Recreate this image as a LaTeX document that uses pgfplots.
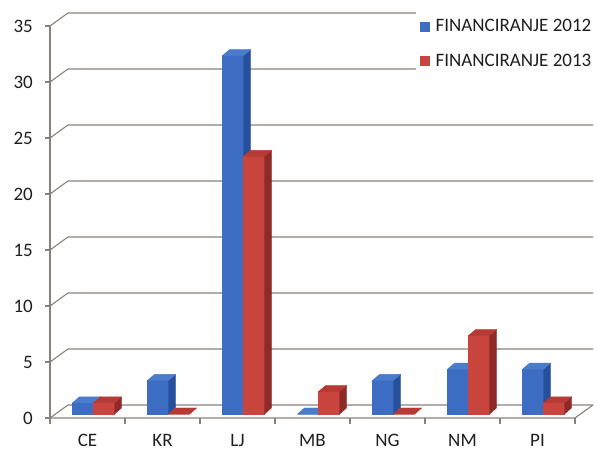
\documentclass[border=0pt]{standalone}
\usepackage{fontspec}
\setmainfont{Carlito}
\usepackage{pgfplots}
\pgfplotsset{compat=1.18}
\definecolor{bF}{HTML}{3C6DC2}
\definecolor{bS}{HTML}{26509C}
\definecolor{bT}{HTML}{4B7BCB}
\definecolor{rF}{HTML}{C9453D}
\definecolor{rS}{HTML}{8E2A27}
\definecolor{rT}{HTML}{B63B35}
\definecolor{gridc}{HTML}{8A817C}
\pgfdeclareplotmark{nothing}{}
\pgfplotsset{
  bar3d/.style n args={4}{scatter, only marks, mark=nothing, forget plot,
    visualization depends on={rawy \as \rawy},
    scatter/@pre marker code/.code={%
      \pgfmathsetmacro\hh{\rawy*11.2}%
      \pgfmathsetmacro\hb{6-\hh}%
      \pgfmathsetmacro\xa{#1}%
      \pgfmathsetmacro\xb{#1+21}%
      \pgfmathsetmacro\xc{#1+28}%
      \pgfmathsetmacro\xd{#1+7}%
      \fill[#2] (\xa pt,-\hh pt) rectangle (\xb pt,0pt);
      \fill[#3] (\xb pt,-\hh pt) -- (\xc pt,\hb pt) -- (\xc pt,6pt) -- (\xb pt,0pt) -- cycle;
      \fill[#4] (\xa pt,0pt) -- (\xb pt,0pt) -- (\xc pt,6pt) -- (\xd pt,6pt) -- cycle;
    },
    scatter/@post marker code/.code={}
  }
}
\begin{document}
\begin{tikzpicture}
\useasboundingbox (0,0) rectangle (598pt,452pt);
\begin{axis}[
  at={(56pt,38pt)}, anchor=south west,
  scale only axis, width=525pt, height=392pt,
  xmin=-0.5, xmax=6.5, ymin=0, ymax=35,
  clip=false,
  axis line style={draw=none},
  tick style={draw=none},
  xtick={0,...,6},
  xticklabels={CE,KR,LJ,MB,NG,NM,PI},
  ytick={0,5,...,35},
  /pgf/number format/assume math mode=true,
  ticklabel style={font=\fontsize{19}{22}\selectfont, text=black!88},
  xticklabel style={anchor=base, inner sep=0pt, yshift=-33pt, xshift=-6pt},
  yticklabel style={anchor=east, inner sep=0pt, xshift=-23pt, yshift=-4pt},
  legend style={at={(0.6857,1.025)}, anchor=north west, draw=none, fill=white,
    font=\fontsize{19}{22}\selectfont, text=black!88, row sep=17pt, inner xsep=4pt, inner ysep=5pt,
    legend cell align=left},
  legend image code/.code={\fill[#1] (0pt,-4.5pt) rectangle (9pt,4.5pt); \path (13pt,0pt);},
]
% grid lines (front corner -> back wall)
\pgfplotsinvokeforeach{0,5,...,35}{
  \draw[gridc, line width=1.1pt] ([shift={(-6pt,-4pt)}]axis cs:-0.5,#1) -- ([shift={(12pt,9pt)}]axis cs:-0.5,#1) -- ([shift={(12pt,9pt)}]axis cs:6.5,#1);
  \draw[gridc, line width=1.1pt] ([shift={(-6pt,-4pt)}]axis cs:-0.5,#1) -- ([shift={(-11pt,-4pt)}]axis cs:-0.5,#1);
}
% floor and front axis
\draw[gridc, line width=1.1pt] ([shift={(-6pt,-4pt)}]axis cs:-0.5,0) -- ([shift={(-6pt,-4pt)}]axis cs:6.5,0) -- ([shift={(12pt,9pt)}]axis cs:6.5,0);
\draw[gridc, line width=1.1pt] ([shift={(-6pt,-4pt)}]axis cs:-0.5,0) -- ([shift={(-6pt,-4pt)}]axis cs:-0.5,35);
\pgfplotsinvokeforeach{-0.5,0.5,...,6.5}{
  \draw[gridc, line width=1.1pt] ([shift={(-6pt,-4pt)}]axis cs:#1,0) -- ([shift={(-6pt,-10pt)}]axis cs:#1,0);
}
\addplot[bar3d={-21}{bF}{bS}{bT}] coordinates {
(0,1) (1,3) (2,32) (3,0) (4,3) (5,4) (6,4)};
\addplot[bar3d={0}{rF}{rS}{rT}] coordinates {
(0,1) (1,0) (2,23) (3,2) (4,0) (5,7) (6,1)};
\addlegendimage{bF}
\addlegendentry{FINANCIRANJE 2012}
\addlegendimage{rF}
\addlegendentry{FINANCIRANJE 2013}
\end{axis}
\end{tikzpicture}
\end{document}
